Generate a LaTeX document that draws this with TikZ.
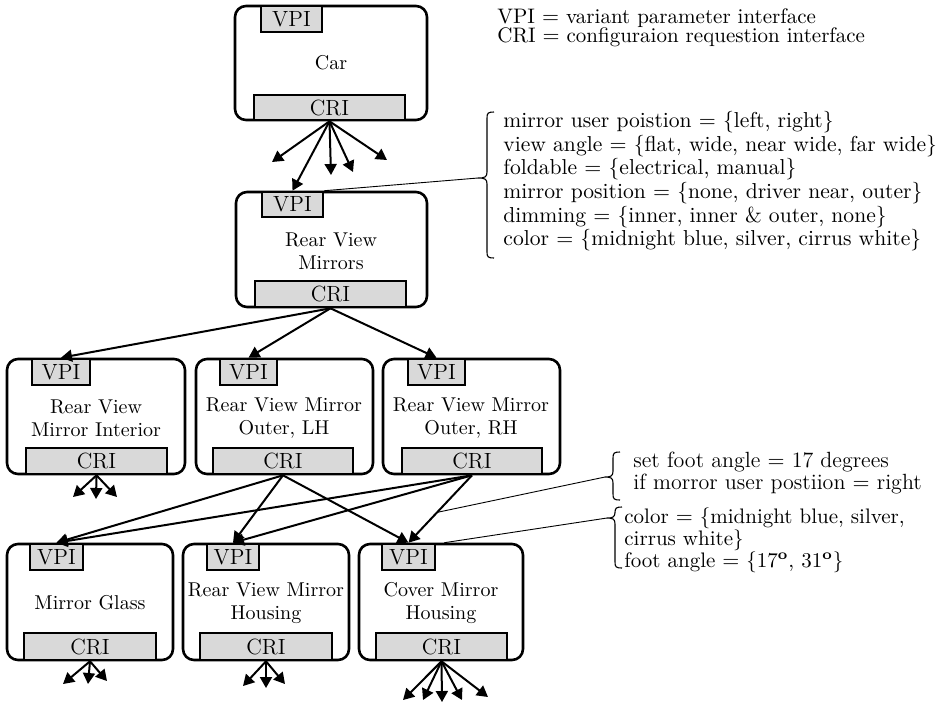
\documentclass[tikz,border=0pt]{standalone}
\usetikzlibrary{arrows.meta,calc}
\definecolor{portgray}{RGB}{217,217,217}

% a rectangular node spanning x1..x2, y1..y2 (picture units)
\newcommand\spannode[6]{\node[#1, minimum width={(#5-#3)*0.5pt}, minimum height={(#6-#4)*0.5pt}] (#2) at ({(#3+#5)/2},{(#4+#6)/2})}

% left curly brace: x of the spine, top, bottom, tip, tip depth, name of tip
\newcommand\curlybrace[6]{%
  \draw[bracepath] ({#1+7},#2) .. controls ({#1+1},#2) and (#1,{#2+1}) .. (#1,{#2+6})
    -- (#1,{#4-6}) .. controls (#1,{#4-1}) and ({#1-2},#4) .. ({#1-#5},#4)
    .. controls ({#1-2},#4) and (#1,{#4+1}) .. (#1,{#4+6})
    -- (#1,{#3-6}) .. controls (#1,{#3-1}) and ({#1+1},#3) .. ({#1+7},#3);
  \coordinate (#6) at ({#1-#5},#4);}

\newcommand\degmark{\textsuperscript{\textbf{o}}}

\begin{document}
\begin{tikzpicture}[x=0.5pt,y=-0.5pt,
  part/.style={draw, line width=1.3pt, rounded corners=5.5pt, inner sep=0pt},
  port/.style={draw, line width=1.3pt, fill=portgray, inner sep=0pt,
    font=\fontsize{11}{12}\selectfont},
  lbl/.style={align=center, inner sep=0pt, font=\fontsize{10}{11.5}\selectfont},
  link/.style={line width=1pt, -{Triangle[length=5.5pt,width=6pt]}},
  note/.style={align=left, anchor=north west, inner sep=0pt,
    font=\fontsize{10.5}{11}\selectfont},
  leader/.style={line width=0.45pt},
  bracepath/.style={line width=0.55pt}]
\useasboundingbox (0,0) rectangle (940,703);

% ---------- Car ----------
\spannode{part}{car}{235}{6}{427}{120} {};
\spannode{port}{carVPI}{261}{6}{322}{32} {VPI};
\spannode{port}{carCRI}{254}{95}{405}{120} {CRI};
\node[lbl] (carL) at (331,63) {Car};

% ---------- Rear View Mirrors ----------
\spannode{part}{rvm}{236}{192}{427}{307} {};
\spannode{port}{rvmVPI}{262}{192}{323}{217} {VPI};
\spannode{port}{rvmCRI}{255}{281}{406}{307} {CRI};
\node[lbl] (rvmL) at (331,251) {Rear View\\Mirrors};

% ---------- second level ----------
\spannode{part}{int}{7}{359}{185}{474} {};
\spannode{port}{intVPI}{32}{359}{90}{385} {VPI};
\spannode{port}{intCRI}{26}{448}{167}{474} {CRI};
\node[lbl] (intL) at (96,418) {Rear View\\Mirror Interior};

\spannode{part}{lh}{196}{359}{373}{474} {};
\spannode{port}{lhVPI}{220}{359}{277}{385} {VPI};
\spannode{port}{lhCRI}{213}{448}{353}{474} {CRI};
\node[lbl] (lhL) at (284,418) {Rear View Mirror\\Outer, LH};

\spannode{part}{rh}{383}{359}{560}{474} {};
\spannode{port}{rhVPI}{408}{359}{465}{385} {VPI};
\spannode{port}{rhCRI}{402}{448}{542}{474} {CRI};
\node[lbl] (rhL) at (471,418) {Rear View Mirror\\Outer, RH};

% ---------- third level ----------
\spannode{part}{glass}{7}{544}{173}{660} {};
\spannode{port}{glassVPI}{30}{544}{83}{570} {VPI};
\spannode{port}{glassCRI}{24}{633}{156}{660} {CRI};
\node[lbl] (glassL) at (90,603) {Mirror Glass};

\spannode{part}{hous}{183}{544}{349}{660} {};
\spannode{port}{housVPI}{207}{544}{259}{570} {VPI};
\spannode{port}{housCRI}{200}{633}{332}{660} {CRI};
\node[lbl] (housL) at (266,603) {Rear View Mirror\\Housing};

\spannode{part}{cover}{359}{544}{523}{660} {};
\spannode{port}{coverVPI}{382}{544}{435}{570} {VPI};
\spannode{port}{coverCRI}{376}{633}{507}{660} {CRI};
\node[lbl] (coverL) at (441,603) {Cover Mirror\\Housing};

% ---------- open ends of the fans ----------
\coordinate (carF1) at (272,162);
\coordinate (carF2) at (331,175);
\coordinate (carF3) at (353,172);
\coordinate (carF4) at (387,160);
\coordinate (intF1) at (73,497);
\coordinate (intF2) at (96,499);
\coordinate (intF3) at (117,497);
\coordinate (glassF1) at (63,684);
\coordinate (glassF2) at (88,684);
\coordinate (glassF3) at (107,681);
\coordinate (housF1) at (243,686);
\coordinate (housF2) at (266,688);
\coordinate (housF3) at (285,684);
\coordinate (coverF1) at (403,700);
\coordinate (coverF2) at (423,700);
\coordinate (coverF3) at (442,702);
\coordinate (coverF4) at (462,700);
\coordinate (coverF5) at (488,697);

% ---------- connectors ----------
\foreach \t in {carF1,carF2,carF3,carF4} \draw[link] (carCRI.south) -- (\t);
\draw[link] (carCRI.south) -- (rvmVPI.north);

\foreach \t in {intVPI,lhVPI,rhVPI} \draw[link] (rvmCRI.south) -- (\t.north);

\foreach \t in {intF1,intF2,intF3} \draw[link] (intCRI.south) -- (\t);

\foreach \t in {glassVPI,housVPI,coverVPI} \draw[link] (lhCRI.south) -- (\t.north);
\draw[link] (rhCRI.south) -- (glassVPI.north);
\draw[link] (rhCRI.south) -- (housVPI.north);
\draw[link] (rhCRI.south) -- coordinate[pos=0.55] (rhmid) (coverVPI.north);

\foreach \t in {glassF1,glassF2,glassF3} \draw[link] (glassCRI.south) -- (\t);
\foreach \t in {housF1,housF2,housF3} \draw[link] (housCRI.south) -- (\t);
\foreach \t in {coverF1,coverF2,coverF3,coverF4,coverF5} \draw[link] (coverCRI.south) -- (\t);

% ---------- legend and parameter notes ----------
\node[note, font=\fontsize{10.5}{9.5}\selectfont] (legend) at (497,8)
  {VPI $=$ variant parameter interface\\CRI $=$ configuraion requestion interface};

\node[note, font=\fontsize{10.8}{11.8}\selectfont] (rvmParams) at (503,111)
  {mirror user poistion $=$ \{left, right\}\\
   view angle $=$ \{flat, wide, near wide, far wide\}\\
   foldable $=$ \{electrical, manual\}\\
   mirror position $=$ \{none, driver near, outer\}\\
   dimming $=$ \{inner, inner \& outer, none\}\\
   color $=$ \{midnight blue, silver, cirrus white\}};
\curlybrace{487}{112}{258}{178}{9}{rvmTip}
\draw[leader] (rvmTip) -- (rvmVPI.north east);

\node[note, font=\fontsize{11}{11}\selectfont] (rhRule) at (633,452)
  {set foot angle $=$ 17 degrees\\if morror user postiion $=$ right};
\curlybrace{613}{452}{500}{477}{8}{ruleTip}
\draw[leader] (ruleTip) -- (rhmid);

\node[note] (coverParams) at (624,507)
  {color $=$ \{midnight blue, silver,\\cirrus white\}\\foot angle $=$ \{17\degmark, 31\degmark\}};
\curlybrace{615}{507}{568}{518}{8}{coverTip}
\draw[leader] (coverTip) -- ($(coverVPI.north east)+(8,0)$);
\end{tikzpicture}
\end{document}
